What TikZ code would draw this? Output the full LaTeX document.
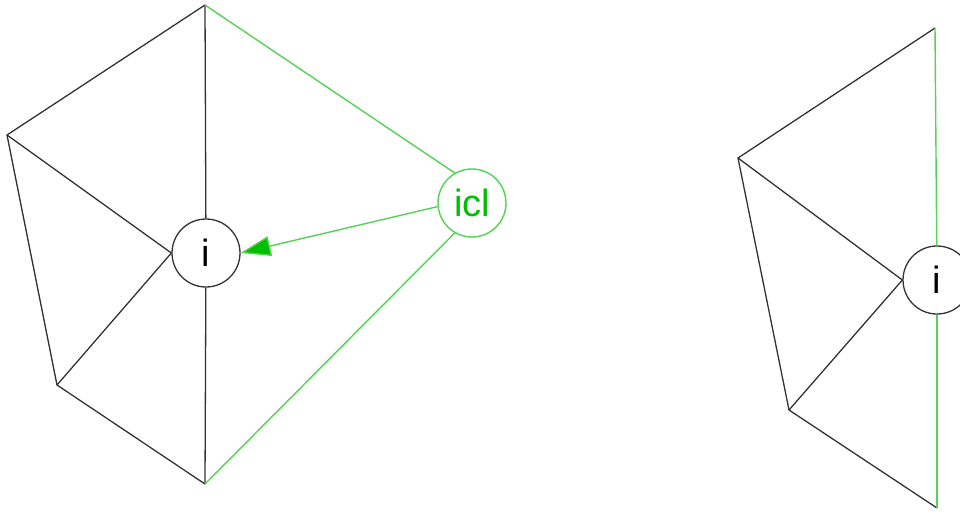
\documentclass[tikz,border=0pt]{standalone}
\usepackage{fontspec}
\setmainfont{Liberation Sans}
\usetikzlibrary{arrows.meta}
\definecolor{gline}{RGB}{85,210,85}
\definecolor{gdark}{RGB}{0,190,0}
\begin{document}
\begin{tikzpicture}[x=1pt,y=-1pt,
  edge/.style={draw=black!80,line width=1.3pt},
  gedge/.style={draw=gline,line width=1.4pt},
  vnode/.style={circle,draw=black!80,line width=1.3pt,fill=white,minimum size=68pt,inner sep=0pt,font=\fontsize{38}{44}\selectfont},
  cnode/.style={circle,draw=gline,line width=1.4pt,fill=white,minimum size=68pt,inner sep=0pt,text=gdark,font=\fontsize{38}{44}\selectfont}]
\useasboundingbox (0,0) rectangle (960,515);
% left figure
\coordinate (T) at (205,5);
\coordinate (L1) at (7,135);
\coordinate (L2) at (57,385);
\coordinate (B) at (205,484);
\node[vnode] (i) at (206,253) {i};
\node[cnode] (icl) at (472,203) {icl};
\draw[edge] (T) -- (i);
\draw[edge] (B) -- (i);
\draw[edge] (L1) -- (i.west);
\draw[edge] (L2) -- (i.west);
\draw[edge] (T) -- (L1) -- (L2) -- (B);
\draw[gedge] (T) -- (icl.120);
\draw[gedge] (icl.240) -- (B);
\draw[gedge,-{Triangle[length=30pt,width=20pt,fill=gdark]}] (icl.186) -- (i.east);
% right figure
\coordinate (T2) at (935,28);
\coordinate (M1) at (738,158);
\coordinate (M2) at (789,410);
\coordinate (B2) at (937,508);
\node[vnode] (j) at (937,280) {i};
\draw[edge] (M1) -- (j.west);
\draw[edge] (M2) -- (j.west);
\draw[edge] (T2) -- (M1) -- (M2) -- (B2);
\draw[gedge] (T2) -- (j);
\draw[gedge] (j) -- (B2);
\end{tikzpicture}
\end{document}
